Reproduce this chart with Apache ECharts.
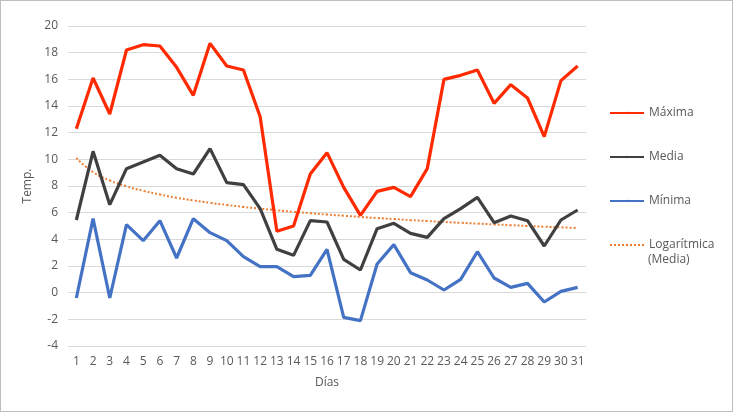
<!DOCTYPE html>
<html>
<head>
<meta charset="utf-8">
<script src="https://cdn.jsdelivr.net/npm/echarts@6/dist/echarts.min.js"></script>
<style>
html,body{margin:0;padding:0;background:#fff;}
#c{width:733px;height:412px;box-sizing:border-box;border:1px solid #BFBFBF;}
</style>
</head>
<body>
<div id="c"></div>
<script>
const dias = ['1','2','3','4','5','6','7','8','9','10','11','12','13','14','15','16','17','18','19','20','21','22','23','24','25','26','27','28','29','30','31'];
const maxima = [12.3,16.1,13.4,18.2,18.6,18.5,16.9,14.8,18.7,17.0,16.7,13.2,4.6,5.0,8.9,10.5,7.9,5.8,7.6,7.9,7.2,9.3,16.0,16.3,16.7,14.2,15.6,14.6,11.7,15.9,17.0];
const media = [5.45,10.6,6.6,9.3,9.8,10.3,9.3,8.9,10.8,8.25,8.1,6.3,3.25,2.8,5.4,5.3,2.5,1.7,4.8,5.2,4.45,4.15,5.55,6.3,7.15,5.25,5.75,5.4,3.5,5.45,6.2];
const minima = [-0.4,5.55,-0.4,5.1,3.9,5.4,2.6,5.55,4.5,3.9,2.7,1.95,1.95,1.2,1.3,3.25,-1.85,-2.1,2.15,3.6,1.5,0.95,0.2,1.0,3.07,1.1,0.4,0.7,-0.7,0.1,0.4];
const tendencia = [10.1,9.04,8.42,7.98,7.64,7.36,7.12,6.92,6.74,6.58,6.43,6.30,6.18,6.06,5.96,5.86,5.77,5.68,5.60,5.52,5.44,5.37,5.30,5.24,5.18,5.12,5.06,5.00,4.95,4.90,4.85];
const nombres = ['Máxima','Media','Mínima','Logarítmica (Media)'];

const chart = echarts.init(document.getElementById('c'), null, {renderer:'canvas'});
const txt = '#595959';
const ff = '"Open Sans", "Liberation Sans", sans-serif';
chart.setOption({
  animation:false,
  textStyle:{fontFamily:ff,color:txt},
  grid:{left:67,right:146,top:25,bottom:65,containLabel:false},
  xAxis:{
    type:'category', data:dias, boundaryGap:true,
    name:'Días', nameLocation:'middle', nameGap:31,
    nameTextStyle:{color:txt,fontSize:12,fontFamily:ff},
    axisLine:{show:false}, axisTick:{show:false},
    axisLabel:{color:txt,fontSize:12,margin:10,interval:0,fontFamily:ff}
  },
  yAxis:{
    type:'value', min:-4, max:20, interval:2,
    name:'Temp.', nameLocation:'middle', nameGap:31, nameRotate:90,
    nameTextStyle:{color:txt,fontSize:12,fontFamily:ff},
    axisLine:{show:false}, axisTick:{show:false},
    axisLabel:{color:txt,fontSize:12,margin:10,fontFamily:ff},
    splitLine:{lineStyle:{color:'#D9D9D9',width:1}}
  },
  legend:{
    orient:'vertical', left:603, top:99, itemGap:28,
    itemWidth:34, itemHeight:3,
    data:nombres,
    formatter:function(n){ return n === nombres[3] ? 'Logarítmica' : n; },
    textStyle:{color:txt,fontSize:12,fontFamily:ff,lineHeight:16}
  },
  graphic:[
    {type:'text', left:647, top:253, style:{text:'(Media)', fill:txt, font:'12px ' + ff}}
  ],
  series:[
    {name:nombres[0],type:'line',data:maxima,symbol:'none',lineStyle:{color:'#FF2A00',width:3.2},itemStyle:{color:'#FF2A00'},z:4},
    {name:nombres[1],type:'line',data:media,symbol:'none',lineStyle:{color:'#404040',width:3.2},itemStyle:{color:'#404040'},z:3},
    {name:nombres[2],type:'line',data:minima,symbol:'none',lineStyle:{color:'#4472C4',width:3.2},itemStyle:{color:'#4472C4'},z:3},
    {name:nombres[3],type:'line',data:tendencia,symbol:'none',smooth:true,lineStyle:{color:'#ED7D31',width:2,type:[2,2]},itemStyle:{color:'#ED7D31'},z:2}
  ]
});
</script>
</body>
</html>
